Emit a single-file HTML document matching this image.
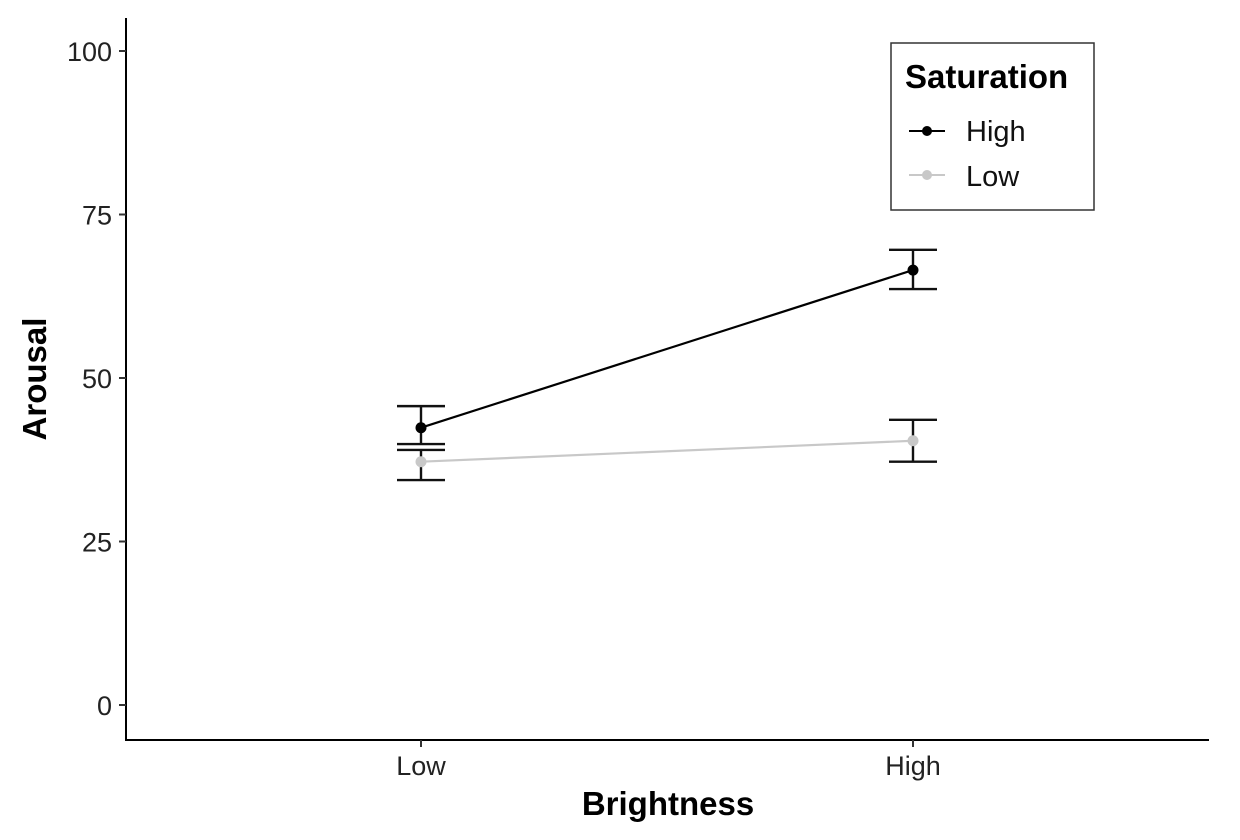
<!DOCTYPE html>
<html><head><meta charset="utf-8"><style>
body{margin:0;background:#fff;}
svg text{font-family:"Liberation Sans",Arial,sans-serif;}
</style></head><body>
<svg id="chart" width="1240" height="835" viewBox="0 0 1240 835">
<g id="axes"></g>
<g id="marks"></g>
<text x="668" y="815" font-size="33" font-weight="bold" text-anchor="middle" fill="#000">Brightness</text>
<text transform="translate(46,379) rotate(-90)" font-size="33" font-weight="bold" text-anchor="middle" fill="#000">Arousal</text>
<g>
<rect x="891" y="43" width="203" height="167" fill="#fff" stroke="#333" stroke-width="1.5"/>
<text x="905" y="88" font-size="33" font-weight="bold" fill="#000">Saturation</text>
<g>
<line x1="909" y1="131" x2="945" y2="131" stroke="#000" stroke-width="2"/>
<circle cx="927" cy="131" r="5" fill="#000"/>
<text x="966" y="141" font-size="29" fill="#111">High</text></g>
<g>
<line x1="909" y1="175" x2="945" y2="175" stroke="#c8c8c8" stroke-width="2"/>
<circle cx="927" cy="175" r="5" fill="#c8c8c8"/>
<text x="966" y="186" font-size="29" fill="#111">Low</text></g>
</g>
</svg>
<script>
const categories = ["Low", "High"];
const seriesNames = ["High", "Low"];
const highMeans = [42.4, 66.5];
const highUpper = [45.7, 69.6];
const highLower = [39.9, 63.6];
const lowMeans = [37.2, 40.4];
const lowUpper = [39.0, 43.6];
const lowLower = [34.4, 37.2];
const yTicks = [0, 25, 50, 75, 100];

const NS = "http://www.w3.org/2000/svg";
const xPos = i => 421 + i * 492;
const yPos = v => 705 - v * 6.54;
function mk(parent, tag, attrs) {
  const e = document.createElementNS(NS, tag);
  for (const k in attrs) e.setAttribute(k, attrs[k]);
  parent.appendChild(e);
  return e;
}
const axes = document.getElementById('axes');
const marks = document.getElementById('marks');
let el = mk(axes, 'line', {x1:126, y1:18, x2:126, y2:741, stroke:'#000', 'stroke-width':2});


el = mk(axes, 'line', {x1:125, y1:740, x2:1209, y2:740, stroke:'#000', 'stroke-width':2});


yTicks.forEach(t => {
  const y = yPos(t);
  const tk = mk(axes, 'line', {x1:119, y1:y, x2:126, y2:y, stroke:'#333', 'stroke-width':2});
  
  
  const lb = mk(axes, 'text', {x:112, y:y + 10, 'font-size':27, 'text-anchor':'end', fill:'#222'});
  lb.textContent = t;
  
  
});
categories.forEach((c, i) => {
  const x = xPos(i);
  const tk = mk(axes, 'line', {x1:x, y1:740, x2:x, y2:747, stroke:'#333', 'stroke-width':2});
  
  
  const lb = mk(axes, 'text', {x:x, y:775, 'font-size':27, 'text-anchor':'middle', fill:'#222'});
  lb.textContent = c;
  
  
});
function series(means, up, lo, color, name) {
  const g = mk(marks, 'g', {});
  
  
  const pts = means.map((m, i) => xPos(i) + ',' + yPos(m)).join(' ');
  const pl = mk(g, 'polyline', {points:pts, fill:'none', stroke:color, 'stroke-width':2.2});
  
  
  means.forEach((m, i) => {
    const x = xPos(i);
    const eb = mk(g, 'path', {d:`M${x-24},${yPos(up[i])}H${x+24}M${x},${yPos(up[i])}V${yPos(lo[i])}M${x-24},${yPos(lo[i])}H${x+24}`, stroke:'#111', 'stroke-width':2.4, fill:'none'});
    
    
  });
  means.forEach((m, i) => {
    const c = mk(g, 'circle', {cx:xPos(i), cy:yPos(m), r:5.5, fill:color});
    
    
  });
}
series(lowMeans, lowUpper, lowLower, '#c8c8c8', 'low-saturation');
series(highMeans, highUpper, highLower, '#000', 'high-saturation');
</script>
</body></html>
